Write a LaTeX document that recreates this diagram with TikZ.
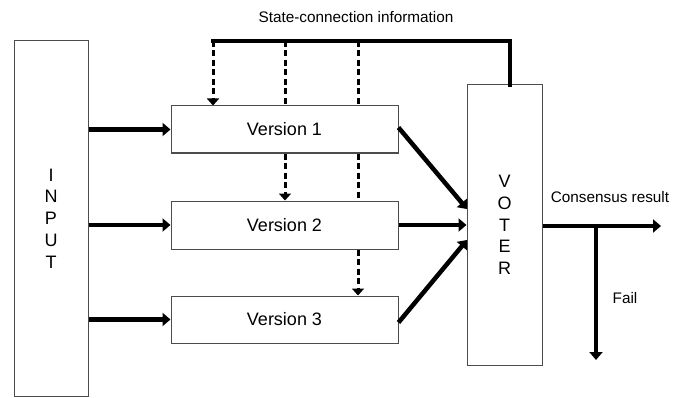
\documentclass[tikz,border=0pt]{standalone}
\usepackage{fontspec}
\setmainfont{Liberation Sans}
\usetikzlibrary{arrows.meta}
\begin{document}
\begin{tikzpicture}[x=1pt,y=-1pt,
  box/.style={draw=black!70, line width=1pt, fill=white, inner sep=0pt},
  bigtxt/.style={font=\fontsize{18}{21.7}\selectfont},
  smalltxt/.style={font=\fontsize{15.3}{17}\selectfont},
  thickarrow/.style={line width=4.5pt, -{Triangle[length=8pt,width=13pt]}},
  thickline/.style={line width=4.5pt, line cap=rect},
  dashline/.style={line width=3pt, dash pattern=on 6pt off 3.5pt},
  dasharrow/.style={dashline, -{Triangle[length=7pt,width=12pt]}}]
\useasboundingbox (0,0) rectangle (684,398);
% boxes
\node[box, bigtxt, align=center, minimum width=74pt, minimum height=355pt] (input) at (51,218.5) {I\\N\\P\\U\\T};
\node[box, bigtxt, minimum width=227pt, minimum height=47pt] (v1) at (284.5,129.5) {Version 1};
\node[box, bigtxt, minimum width=227pt, minimum height=48pt] (v2) at (284.5,225) {Version 2};
\node[box, bigtxt, minimum width=227pt, minimum height=47pt] (v3) at (284.5,319.5) {Version 3};
\node[box, bigtxt, align=center, minimum width=75pt, minimum height=280pt] (voter) at (504.5,225) {V\\O\\T\\E\\R};
% labels
\node[smalltxt] (lstate) at (356,17) {State-connection information};
\node[smalltxt] (lcons) at (610,197) {Consensus result};
\node[smalltxt] (lfail) at (625,298) {Fail};
% input arrows
\draw[thickarrow] (v1.west -| input.east) -- (v1.west);
\draw[thickarrow] (v2.west -| input.east) -- (v2.west);
\draw[thickarrow] (v3.west -| input.east) -- (v3.west);
% versions to voter
\coordinate (t1) at (467,209);
\coordinate (t3) at (467,240);
\draw[thickarrow] ([yshift=2pt]v1.east) -- (t1);
\draw[thickarrow] (v2.east) -- (v2.east -| voter.west);
\draw[thickarrow] ([yshift=-3pt]v3.east) -- (t3);
% output
\coordinate (outend) at (661,226);
\coordinate (fork) at (596,226);
\coordinate (failend) at (596,360);
\draw[thickarrow] (outend -| voter.east) -- (outend);
\draw[thickarrow] (fork) -- (failend);
% feedback
\coordinate (vtop) at (510,85);
\coordinate (tr) at (510,41);
\coordinate (tl) at (213,41);
\coordinate (m1) at (285,41);
\coordinate (m2) at (358,41);
\draw[thickline] (vtop) -- (tr) -- (tl);
\draw[dasharrow] (tl) -- (tl |- v1.north);
\draw[dashline] (m1) -- (m1 |- v1.north);
\draw[dasharrow] (m1 |- v1.south) -- (m1 |- v2.north);
\draw[dashline] (m2) -- (m2 |- v1.north);
\draw[dashline] (m2 |- v1.south) -- (m2 |- v2.north);
\draw[dasharrow] (m2 |- v2.south) -- (m2 |- v3.north);
\end{tikzpicture}
\end{document}
